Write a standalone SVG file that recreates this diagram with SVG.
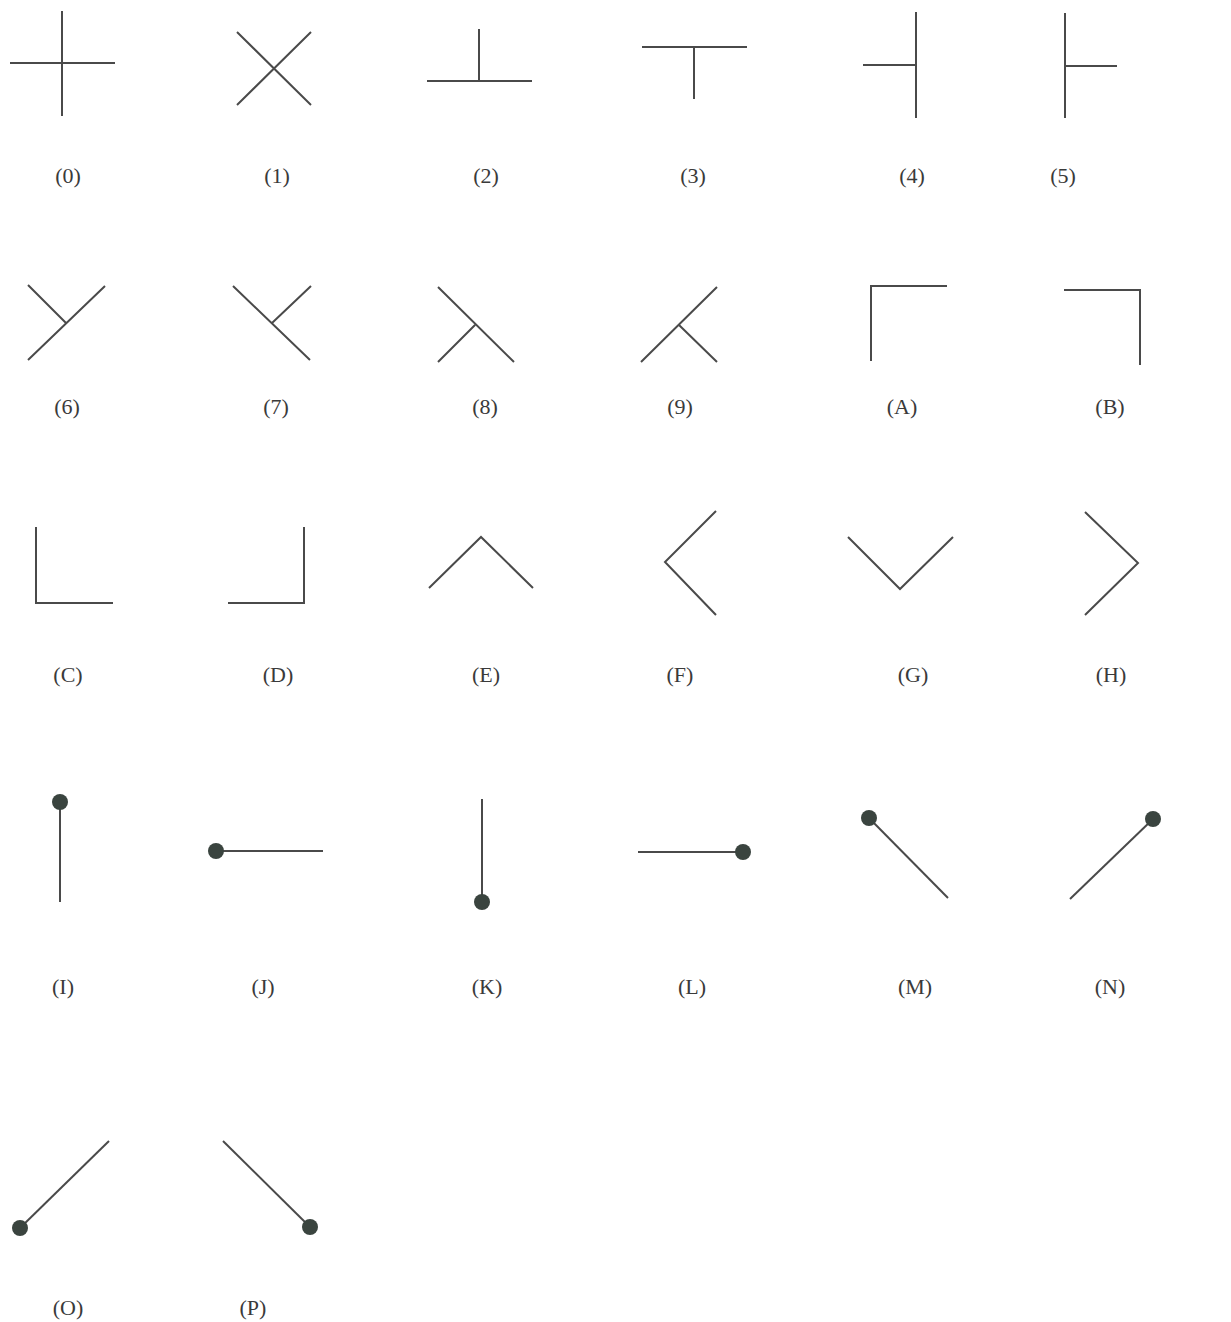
<svg xmlns="http://www.w3.org/2000/svg" width="1231" height="1322" viewBox="0 0 1231 1322">
<style>
.s{fill:none;stroke:#4a4a4a;stroke-width:2;stroke-linecap:butt;stroke-linejoin:miter}
.d{fill:#3a443f}
.t{font-family:"Liberation Serif","Times New Roman",serif;font-size:22px;fill:#3a3a3a;text-anchor:middle}
</style>
<rect width="1231" height="1322" fill="#ffffff"/>
<g id="sym0"><path class="s" d="M62 11V116M10 63H115"/><text class="t" x="68" y="183">(0)</text></g>
<g id="sym1"><path class="s" d="M237 32L311 105M237 105L311 32"/><text class="t" x="277" y="183">(1)</text></g>
<g id="sym2"><path class="s" d="M479 29V81M427 81H532"/><text class="t" x="486" y="183">(2)</text></g>
<g id="sym3"><path class="s" d="M642 47H747M694 47V99"/><text class="t" x="693" y="183">(3)</text></g>
<g id="sym4"><path class="s" d="M916 12V118M863 65H916"/><text class="t" x="912" y="183">(4)</text></g>
<g id="sym5"><path class="s" d="M1065 13V118M1065 66H1117"/><text class="t" x="1063" y="183">(5)</text></g>

<g id="sym6"><path class="s" d="M28 285L66 323M28 360L105 286"/><text class="t" x="67" y="414">(6)</text></g>
<g id="sym7"><path class="s" d="M233 286L310 360M272 323L311 286"/><text class="t" x="276" y="414">(7)</text></g>
<g id="sym8"><path class="s" d="M438 287L514 362M475 325L438 362"/><text class="t" x="485" y="414">(8)</text></g>
<g id="sym9"><path class="s" d="M641 362L717 287M679 325L717 362"/><text class="t" x="680" y="414">(9)</text></g>
<g id="symA"><path class="s" d="M871 361V286H947"/><text class="t" x="902" y="414">(A)</text></g>
<g id="symB"><path class="s" d="M1064 290H1140V365"/><text class="t" x="1110" y="414">(B)</text></g>

<g id="symC"><path class="s" d="M36 527V603H113"/><text class="t" x="68" y="682">(C)</text></g>
<g id="symD"><path class="s" d="M304 527V603H228"/><text class="t" x="278" y="682">(D)</text></g>
<g id="symE"><path class="s" d="M429 588L481 537L533 588"/><text class="t" x="486" y="682">(E)</text></g>
<g id="symF"><path class="s" d="M716 511L665 562L716 615"/><text class="t" x="680" y="682">(F)</text></g>
<g id="symG"><path class="s" d="M848 537L900 589L953 537"/><text class="t" x="913" y="682">(G)</text></g>
<g id="symH"><path class="s" d="M1085 512L1138 563L1085 615"/><text class="t" x="1111" y="682">(H)</text></g>

<g id="symI"><path class="s" d="M60 802V902"/><circle class="d" cx="60" cy="802" r="8"/><text class="t" x="63" y="994">(I)</text></g>
<g id="symJ"><path class="s" d="M216 851H323"/><circle class="d" cx="216" cy="851" r="8"/><text class="t" x="263" y="994">(J)</text></g>
<g id="symK"><path class="s" d="M482 799V902"/><circle class="d" cx="482" cy="902" r="8"/><text class="t" x="487" y="994">(K)</text></g>
<g id="symL"><path class="s" d="M638 852H743"/><circle class="d" cx="743" cy="852" r="8"/><text class="t" x="692" y="994">(L)</text></g>
<g id="symM"><path class="s" d="M869 818L948 898"/><circle class="d" cx="869" cy="818" r="8"/><text class="t" x="915" y="994">(M)</text></g>
<g id="symN"><path class="s" d="M1153 819L1070 899"/><circle class="d" cx="1153" cy="819" r="8"/><text class="t" x="1110" y="994">(N)</text></g>

<g id="symO"><path class="s" d="M109 1141L20 1228"/><circle class="d" cx="20" cy="1228" r="8"/><text class="t" x="68" y="1315">(O)</text></g>
<g id="symP"><path class="s" d="M223 1141L310 1227"/><circle class="d" cx="310" cy="1227" r="8"/><text class="t" x="253" y="1315">(P)</text></g>
<g id="connectors"></g>
</svg>
